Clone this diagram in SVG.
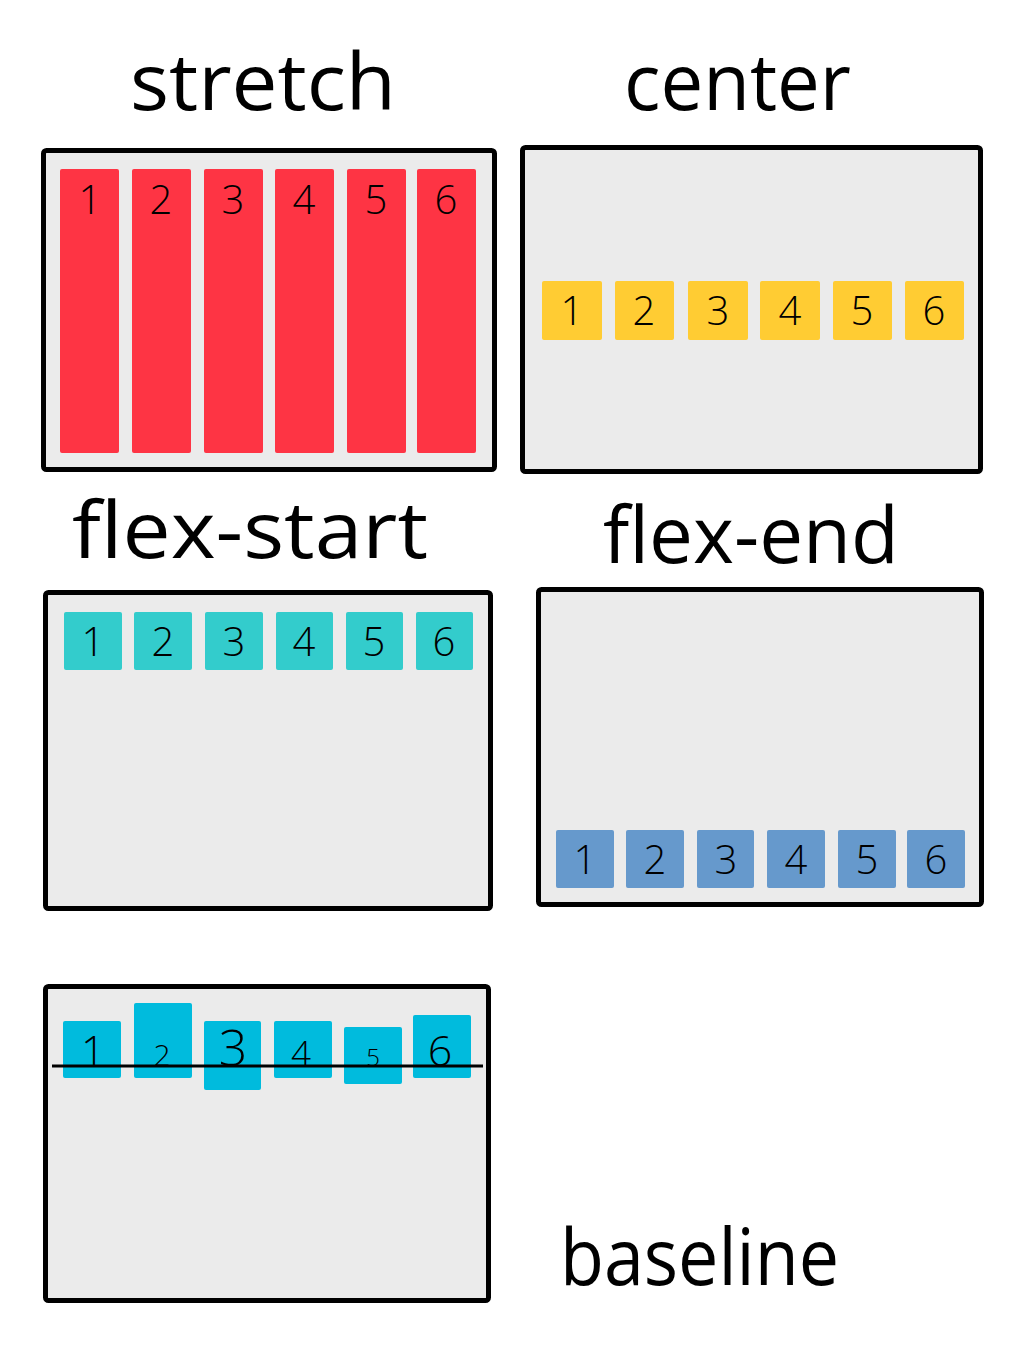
<svg xmlns="http://www.w3.org/2000/svg" width="1024" height="1356" viewBox="0 0 1024 1356">
<style>
.panel{fill:#ebebeb;stroke:#000;stroke-width:5}
.title{font-family:"Open Sans","DejaVu Sans",sans-serif;font-size:78px;fill:#000}
.num{font-family:"Open Sans","DejaVu Sans",sans-serif;font-weight:300;font-size:40px;fill:#000;text-anchor:middle}
.red{fill:#fe3444}.yel{fill:#ffcc33}.teal{fill:#33cccc}.blue{fill:#6699cc}.cyan{fill:#00bbdd}
</style>
<rect width="1024" height="1356" fill="#fff"/>
<text class="title" x="130" y="110" textLength="266" lengthAdjust="spacingAndGlyphs">stretch</text>
<text class="title" x="624" y="110" textLength="227" lengthAdjust="spacingAndGlyphs">center</text>
<text class="title" x="72" y="558" textLength="356" lengthAdjust="spacingAndGlyphs">flex-start</text>
<text class="title" x="603" y="563" textLength="296" lengthAdjust="spacingAndGlyphs">flex-end</text>
<text class="title" x="560" y="1285" textLength="279" lengthAdjust="spacingAndGlyphs">baseline</text>

<g id="stretch">
<rect class="panel" x="43.5" y="150.5" width="451" height="319" rx="3"/>
<g class="red">
<rect x="60" y="169" width="59" height="284" rx="2"/><rect x="132" y="169" width="59" height="284" rx="2"/><rect x="204" y="169" width="59" height="284" rx="2"/><rect x="275" y="169" width="59" height="284" rx="2"/><rect x="347" y="169" width="59" height="284" rx="2"/><rect x="417" y="169" width="59" height="284" rx="2"/>
</g>
<g class="num"><text x="90" y="214">1</text><text x="161" y="214">2</text><text x="233" y="214">3</text><text x="304" y="214">4</text><text x="376" y="214">5</text><text x="446" y="214">6</text></g>
</g>

<g id="center">
<rect class="panel" x="522.5" y="147.5" width="458" height="324" rx="3"/>
<g class="yel">
<rect x="542" y="281" width="60" height="59" rx="2"/><rect x="615" y="281" width="59" height="59" rx="2"/><rect x="688" y="281" width="60" height="59" rx="2"/><rect x="760" y="281" width="60" height="59" rx="2"/><rect x="833" y="281" width="59" height="59" rx="2"/><rect x="905" y="281" width="59" height="59" rx="2"/>
</g>
<g class="num"><text x="572" y="325">1</text><text x="644" y="325">2</text><text x="718" y="325">3</text><text x="790" y="325">4</text><text x="862" y="325">5</text><text x="934" y="325">6</text></g>
</g>

<g id="flex-start">
<rect class="panel" x="45.5" y="592.5" width="445" height="316" rx="3"/>
<g class="teal">
<rect x="64" y="612" width="58" height="58" rx="2"/><rect x="134" y="612" width="58" height="58" rx="2"/><rect x="205" y="612" width="58" height="58" rx="2"/><rect x="276" y="612" width="57" height="58" rx="2"/><rect x="346" y="612" width="57" height="58" rx="2"/><rect x="416" y="612" width="57" height="58" rx="2"/>
</g>
<g class="num"><text x="93" y="656">1</text><text x="163" y="656">2</text><text x="234" y="656">3</text><text x="304" y="656">4</text><text x="374" y="656">5</text><text x="444" y="656">6</text></g>
</g>

<g id="flex-end">
<rect class="panel" x="538.5" y="589.5" width="443" height="315" rx="3"/>
<g class="blue">
<rect x="556" y="830" width="58" height="58" rx="2"/><rect x="626" y="830" width="58" height="58" rx="2"/><rect x="697" y="830" width="57" height="58" rx="2"/><rect x="767" y="830" width="58" height="58" rx="2"/><rect x="838" y="830" width="58" height="58" rx="2"/><rect x="907" y="830" width="58" height="58" rx="2"/>
</g>
<g class="num"><text x="585" y="874">1</text><text x="655" y="874">2</text><text x="726" y="874">3</text><text x="796" y="874">4</text><text x="867" y="874">5</text><text x="936" y="874">6</text></g>
</g>

<g id="baseline">
<rect class="panel" x="45.5" y="986.5" width="443" height="314" rx="3"/>
<g class="cyan">
<rect x="63" y="1021" width="58" height="57" rx="2"/><rect x="134" y="1003" width="58" height="75" rx="2"/><rect x="204" y="1021" width="57" height="69" rx="2"/><rect x="274" y="1021" width="58" height="57" rx="2"/><rect x="344" y="1027" width="58" height="57" rx="2"/><rect x="413" y="1015" width="58" height="63" rx="2"/>
</g>
<g class="num">
<text x="93" y="1066" font-size="42">1</text>
<text x="162" y="1066" font-size="30">2</text>
<text x="233" y="1066" font-size="50">3</text>
<text x="301" y="1066" font-size="35">4</text>
<text x="373" y="1066" font-size="24">5</text>
<text x="440" y="1066" font-size="43">6</text>
</g>
<line x1="52" y1="1066" x2="483" y2="1066" stroke="#000" stroke-width="3"/>
</g>
</svg>
